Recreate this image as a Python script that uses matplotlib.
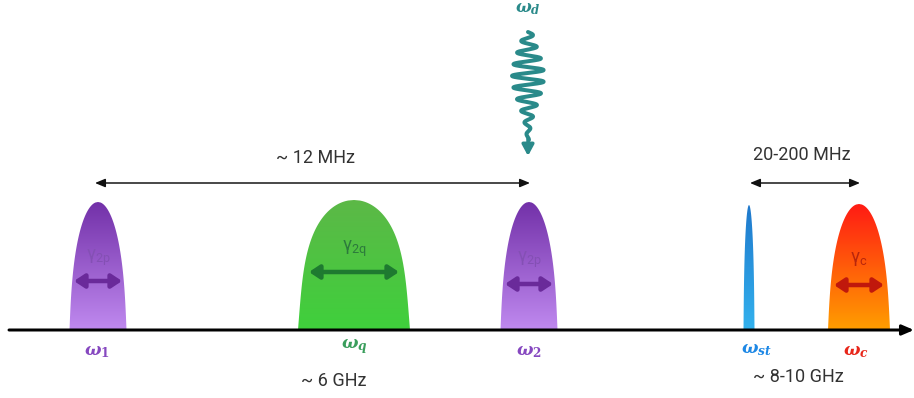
import numpy as np
import matplotlib
matplotlib.use("Agg")
import matplotlib.pyplot as plt
from matplotlib.patches import Polygon
from matplotlib.colors import LinearSegmentedColormap

plt.rcParams["mathtext.fontset"] = "custom"
plt.rcParams["mathtext.rm"] = "DejaVu Serif:bold"
plt.rcParams["mathtext.it"] = "DejaVu Serif:italic:bold"
plt.rcParams["mathtext.sf"] = "Roboto"
plt.rcParams["font.family"] = ["Roboto", "DejaVu Sans"]

# ---- spectral lines (frequency axis in drawing units) ----
names = ["w1", "wq", "w2", "wst", "wc"]
centers = [98, 354, 529, 749, 859]
half_widths = [28.5, 56, 28.5, 5.5, 31]
heights = [128, 130, 128, 125, 126]
top_round = [3, 4, 3, 3, 3]
top_colors = ["#7230a8", "#5cb847", "#7230a8", "#1f78cc", "#ff1a14"]
bottom_colors = ["#c08af0", "#3fd03c", "#c08af0", "#33b2ee", "#ff9f00"]

omega_labels = [r"$\omega_1$", r"$\omega_q$", r"$\omega_2$", r"$\omega_{st}$", r"$\omega_c$"]
omega_colors = ["#8648c0", "#3a9e5c", "#8648c0", "#1e88e5", "#e8261a"]
omega_x = [97, 354, 529, 756, 856]
omega_y = [352, 347, 352, 350, 352]

# linewidth arrows inside the lines
gamma_labels = [r"$\mathsf{γ}_{\mathsf{2p}}$", r"$\mathsf{γ}_{\mathsf{2q}}$",
                r"$\mathsf{γ}_{\mathsf{2p}}$", None, r"$\mathsf{γ}_{\mathsf{c}}$"]
gamma_colors = ["#8450b4", "#2c7a3c", "#8450b4", None, "#b8260c"]
arrow_colors = ["#6a2a9a", "#1e7a30", "#6a2a9a", None, "#c0180c"]
gamma_y = [258, 249, 260, None, 259]
arrow_y = [281, 272, 284, None, 285]
arrow_half = [24, 45, 24, None, 25]

# separations and frequency scales
span_arrows = [(95, 530, 183), (750, 860, 183)]
span_texts = [("~ 12 MHz", 315, 158), ("20-200 MHz", 802, 155),
              ("~ 6 GHz", 334, 381), ("~ 8-10 GHz", 798, 377)]

baseline_y = 330
baseline_x = (9, 914)

# drive tone
drive_x = 528
drive_top, drive_end, drive_tip = 32, 140, 156
drive_center, drive_width = 76, 38
drive_amp, drive_period = 16, 11.7

fig = plt.figure(figsize=(9.14, 3.98), dpi=100)
ax = fig.add_axes([0, 0, 1, 1])
ax.set_xlim(0, 914)
ax.set_ylim(398, 0)
ax.axis("off")

PX = 72 / 100  # one pixel in points


def profile(c, hw, h, k, n=240):
    t = np.linspace(0, 1, n)
    w = hw * (1 - 0.18 * t) * np.sqrt(np.clip(1 - t ** k, 0, None))
    xs = np.concatenate([c - w, (c + w)[::-1]])
    ys = np.concatenate([baseline_y - h * t, (baseline_y - h * t)[::-1]])
    return np.column_stack([xs, ys])


for c, hw, h, k, ct, cb in zip(centers, half_widths, heights, top_round,
                               top_colors, bottom_colors):
    poly = Polygon(profile(c, hw, h, k), closed=True, facecolor="none", edgecolor="none")
    ax.add_patch(poly)
    cmap = LinearSegmentedColormap.from_list("g", [ct, cb])
    grad = np.linspace(0, 1, 256).reshape(-1, 1)
    im = ax.imshow(grad, cmap=cmap, aspect="auto", origin="upper",
                   extent=[c - hw - 1, c + hw + 1, baseline_y + 1, baseline_y - h - 1],
                   interpolation="bilinear", zorder=2)
    im.set_clip_path(poly)

# baseline with arrow
ax.annotate("", xy=(baseline_x[1], baseline_y), xytext=(baseline_x[0], baseline_y),
            arrowprops=dict(arrowstyle="-|>,head_length=0.7,head_width=0.3",
                            lw=3 * PX, color="black", shrinkA=0, shrinkB=0), zorder=3)

# linewidth arrows and labels
for c, gl, gc, ac, gy, ay, ah in zip(centers, gamma_labels, gamma_colors, arrow_colors,
                                     gamma_y, arrow_y, arrow_half):
    if gl is None:
        continue
    ax.annotate("", xy=(c + ah, ay), xytext=(c - ah, ay),
                arrowprops=dict(arrowstyle="<|-|>,head_length=0.6,head_width=0.4",
                                lw=4.5 * PX, color=ac, shrinkA=0, shrinkB=0), zorder=4)
    ax.text(c, gy, gl, color=gc, fontsize=13, ha="center", va="center", zorder=4)

# omega labels
for lab, col, x, y in zip(omega_labels, omega_colors, omega_x, omega_y):
    ax.text(x, y, lab, color=col, fontsize=12.5, ha="center", va="center")

# span arrows
for x0, x1, y in span_arrows:
    ax.annotate("", xy=(x1, y), xytext=(x0, y),
                arrowprops=dict(arrowstyle="<|-|>,head_length=0.6,head_width=0.25",
                                lw=1.5 * PX, color="#111111", shrinkA=0, shrinkB=0))

for s, x, y in span_texts:
    ax.text(x, y, s, color="#333333", fontsize=13, ha="center", va="center")

# drive tone: wave packet ending in an arrow
ys = np.linspace(drive_top, drive_end, 700)
env = np.exp(-((ys - drive_center) / drive_width) ** 2)
xs = drive_x + drive_amp * env * np.sin(2 * np.pi * (ys - drive_top) / drive_period)
teal = "#2a8a8a"
ax.plot(xs, ys, color=teal, lw=4 * PX, solid_capstyle="round", solid_joinstyle="round")
ax.annotate("", xy=(drive_x, drive_tip), xytext=(drive_x, drive_end - 1),
            arrowprops=dict(arrowstyle="-|>,head_length=0.65,head_width=0.35",
                            lw=3.5 * PX, color=teal, shrinkA=0, shrinkB=0))
ax.text(drive_x, 9, r"$\omega_d$", color=teal, fontsize=12, ha="center", va="center")

fig.savefig("out.png", dpi=100)
